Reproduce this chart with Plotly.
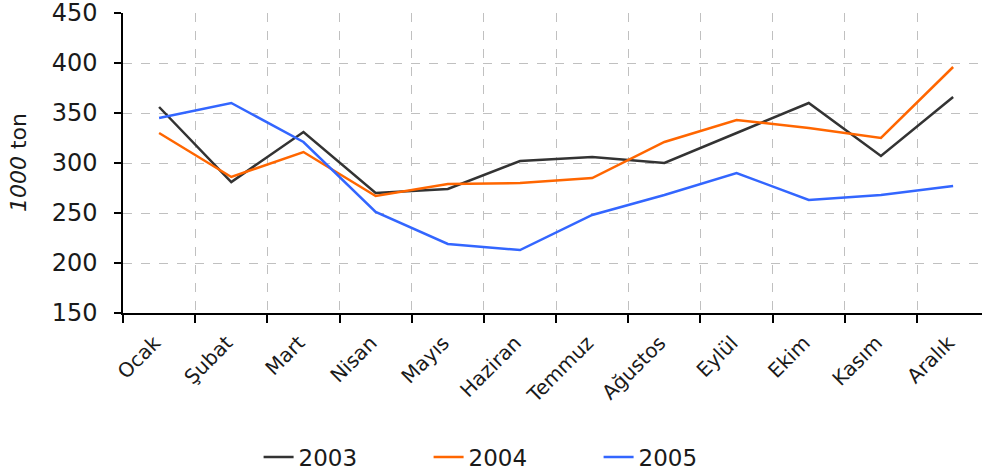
import plotly.graph_objects as go

months = ["Ocak", "Şubat", "Mart", "Nisan", "Mayıs", "Haziran",
          "Temmuz", "Ağustos", "Eylül", "Ekim", "Kasım", "Aralık"]
y2003 = [356, 281, 331, 270, 274, 302, 306, 300, 330, 360, 307, 366]
y2004 = [330, 286, 311, 267, 279, 280, 285, 321, 343, 335, 325, 396]
y2005 = [345, 360, 321, 251, 219, 213, 248, 268, 290, 263, 268, 277]

series = [("2003", y2003, "#333333"), ("2004", y2004, "#ff6600"), ("2005", y2005, "#3366ff")]

FONT = "DejaVu Sans, Liberation Sans, Arial, sans-serif"
W, H, L, T, B = 982, 476, 123, 13, 163

fig = go.Figure()
for name, vals, col in series:
    fig.add_trace(go.Scatter(x=months, y=vals, mode="lines", name=name,
                             line=dict(color=col, width=2.5)))

fig.update_layout(
    width=W, height=H,
    margin=dict(l=L, r=0, t=T, b=B),
    paper_bgcolor="white", plot_bgcolor="white",
    font=dict(family=FONT, color="#1a1a1a", size=22),
    showlegend=True,
    legend=dict(orientation="h", xref="container", yref="container",
                x=0.523, xanchor="center", y=0.04, yanchor="middle",
                font=dict(size=23), entrywidth=125, entrywidthmode="pixels"),
)
fig.add_annotation(text="<i>1000</i> ton", textangle=-90, showarrow=False,
                   xref="paper", yref="paper", x=(18 - L) / (W - L), y=0.5,
                   xanchor="center", yanchor="middle", font=dict(size=22))
fig.update_xaxes(
    type="category", range=[-0.5, 11.4], automargin=False,
    tickson="boundaries", ticks="outside", ticklen=8, tickcolor="#000", tickwidth=1.5,
    showline=True, linecolor="#000", linewidth=1.5,
    showgrid=True, gridcolor="#c0c0c0", griddash="dash", gridwidth=1,
    tickangle=-45, tickfont=dict(size=20), ticklabelstandoff=4,
    tickvals=months, ticktext=[m + "\u00a0" for m in months],
)
fig.update_yaxes(
    range=[150, 450], dtick=50, tick0=150, automargin=False,
    ticks="outside", ticklen=7, tickcolor="#000", tickwidth=1.5,
    showline=True, linecolor="#000", linewidth=1.5,
    showgrid=True, gridcolor="#c0c0c0", griddash="dash", gridwidth=1,
    zeroline=False, tickfont=dict(size=24), ticklabelstandoff=12,
    ticklabeloverflow="allow",
)
fig.write_html("out.html", config={"displayModeBar": False},
               post_script="document.body.style.margin='0';document.body.style.overflow='hidden';")
